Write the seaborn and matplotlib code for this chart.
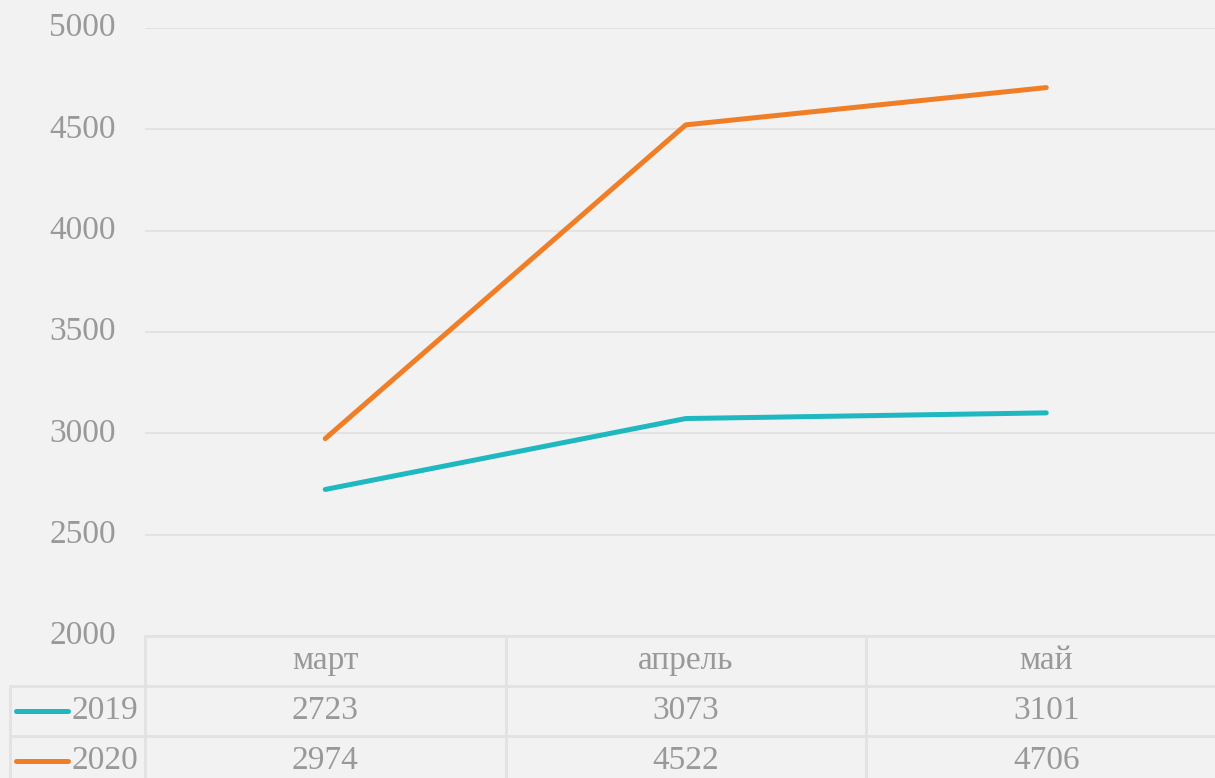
import pandas as pd
import matplotlib.pyplot as plt
import seaborn as sns
from matplotlib.lines import Line2D

# данные
months = ['март', 'апрель', 'май']
years = ['2019', '2020']
v2019 = [2723, 3073, 3101]
v2020 = [2974, 4522, 4706]
colors = ['#1FB8C1', '#F07E26']

df = pd.DataFrame({
    'месяц': months * 2,
    'год': [years[0]] * 3 + [years[1]] * 3,
    'значение': v2019 + v2020,
})

sns.set_theme(style='white')
plt.rcParams['font.family'] = ['Liberation Serif', 'DejaVu Serif']

bg = '#F2F2F2'
grid = '#E2E2E2'
txt = '#999999'
fs = 24

fig = plt.figure(figsize=(12.15, 7.78), dpi=100, facecolor=bg)
# оси выходят за правый край, как в оригинале
ax = fig.add_axes([145 / 1215, 142 / 778, 1081.5 / 1215, 608 / 778])
ax.set_facecolor(bg)

sns.lineplot(data=df, x='месяц', y='значение', hue='год', palette=colors,
             linewidth=3.6, sort=False, legend=False, ax=ax)

ax.set_xlim(-0.5, 2.5)
ax.set_ylim(2000, 5000)
ax.set_yticks(range(2000, 5001, 500))
ax.yaxis.grid(True, color=grid, linewidth=1.5)
ax.set_xticks([])
ax.set_xlabel('')
ax.set_ylabel('')
for s in ax.spines.values():
    s.set_visible(False)
ax.tick_params(axis='y', length=0, pad=21, labelsize=fs, labelcolor=txt)
for lbl in ax.get_yticklabels():
    lbl.set_verticalalignment('center')

# таблица данных под графиком
tr = ax.get_xaxis_transform()
rh = 50 / 608
lab_left = -0.5 - 135 / 360.5

def hline(x0, x1, y):
    ax.add_line(Line2D([x0, x1], [y, y], transform=tr, color=grid,
                       linewidth=2, clip_on=False))

def vline(x, y0, y1):
    ax.add_line(Line2D([x, x], [y0, y1], transform=tr, color=grid,
                       linewidth=2, clip_on=False))

hline(-0.5, 2.6, 0)
hline(lab_left, 2.6, -rh)
hline(lab_left, 2.6, -2 * rh)
vline(-0.5, 0, -3 * rh)
vline(0.5, 0, -3 * rh)
vline(1.5, 0, -3 * rh)
vline(lab_left, -rh, -3 * rh)

for i, m in enumerate(months):
    ax.text(i, -0.5 * rh, m, transform=tr, ha='center', va='center',
            fontsize=fs, color=txt)

for r, (yr, vals, c) in enumerate(zip(years, [v2019, v2020], colors)):
    yc = -(r + 1.5) * rh
    for i, v in enumerate(vals):
        ax.text(i, yc, str(v), transform=tr, ha='center', va='center',
                fontsize=fs, color=txt)
    ax.add_line(Line2D([lab_left + 6 / 360.5, lab_left + 58 / 360.5], [yc, yc],
                       transform=tr, color=c, linewidth=3.6,
                       solid_capstyle='round', clip_on=False))
    ax.text(-0.5 - 7 / 360.5, yc, yr, transform=tr, ha='right', va='center',
            fontsize=fs, color=txt)

fig.savefig('out.png', dpi=100, facecolor=bg)
